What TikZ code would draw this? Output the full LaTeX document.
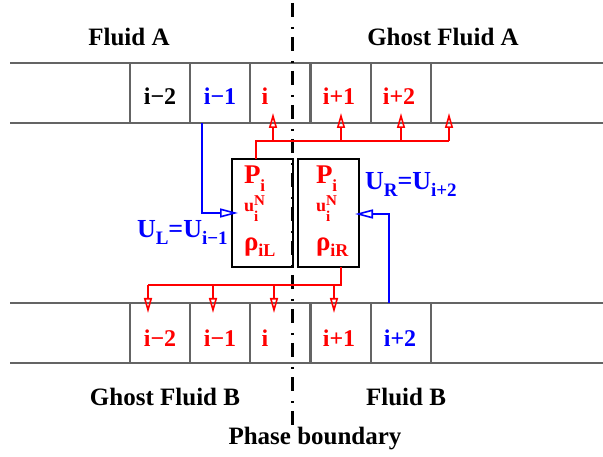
\documentclass[tikz,border=0pt]{standalone}
\usepackage{fontspec}
\setmainfont{Liberation Serif}
\usetikzlibrary{arrows.meta,calc}
\definecolor{fred}{RGB}{255,0,0}
\definecolor{fblue}{RGB}{0,0,255}
\definecolor{stripc}{RGB}{100,100,100}
\newcommand\fsz[1]{\fontsize{#1}{#1}\selectfont\bfseries}
\begin{document}
\begin{tikzpicture}[x=1pt,y=-1pt,
  every node/.style={inner sep=0pt, outer sep=0pt},
  title/.style={font=\fsz{25}, anchor=base},
  lab/.style={font=\fsz{24}, anchor=base},
  boxtxt/.style={anchor=base west, text=fred},
  stripline/.style={draw=stripc, line width=1.1pt},
  cell/.style={draw=stripc, line width=1.1pt, minimum width=60pt, minimum height=60pt},
  gbox/.style={draw=black, line width=1.5pt, minimum width=61pt, minimum height=108pt},
  redline/.style={draw=fred, line width=1.6pt},
  blueline/.style={draw=fblue, line width=1.6pt},
  vtip/.style={-{Triangle[open, length=15pt, width=8pt]}},
  htip/.style={-{Triangle[open, length=18pt, width=9pt]}},
  phase/.style={draw=black, line width=3pt, dash pattern=on 14pt off 10pt on 2pt off 8pt}
]
\useasboundingbox (0,0) rectangle (603,457);

% strips
\draw[stripline] (10,63) -- (603,63) (10,123) -- (603,123);
\draw[stripline] (10,303) -- (603,303) (10,363) -- (603,363);

% top cells
\node[cell] (tA1) at (160,93) {};
\node[cell] (tA2) at (220,93) {};
\node[cell] (tA3) at (280,93) {};
\node[cell] (tA4) at (341,93) {};
\node[cell] (tA5) at (401,93) {};
% bottom cells
\node[cell] (bB1) at (160,333) {};
\node[cell] (bB2) at (220,333) {};
\node[cell] (bB3) at (280,333) {};
\node[cell] (bB4) at (341,333) {};
\node[cell] (bB5) at (401,333) {};

% phase boundary line
\coordinate (pbtop) at (292.5,3);
\coordinate (pbbot) at (292.5,428);
\draw[phase] (pbtop) -- (pbbot);

% titles
\node[title] (fa) at (129,46) {Fluid A};
\node[title] (gfa) at (443,46) {Ghost Fluid A};
\node[title] (gfb) at (165,405) {Ghost Fluid B};
\node[title] (fb) at (406,405) {Fluid B};
\node[title] (pb) at (315,444) {Phase boundary};

% top labels
\node[lab] (lt1) at (160,105) {i−2};
\node[lab, text=fblue] (lt2) at (220,105) {i−1};
\node[lab, text=fred] (lt3) at (265,105) {i};
\node[lab, text=fred] (lt4) at (339,105) {i+1};
\node[lab, text=fred] (lt5) at (399,105) {i+2};
% bottom labels
\node[lab, text=fred] (lb1) at (160,347) {i−2};
\node[lab, text=fred] (lb2) at (220,347) {i−1};
\node[lab, text=fred] (lb3) at (265,347) {i};
\node[lab, text=fred] (lb4) at (339,347) {i+1};
\node[lab, text=fblue] (lb5) at (400,347) {i+2};

% boxes
\node[gbox] (boxL) at (262.5,213) {};
\node[gbox] (boxR) at (328.5,213) {};

% box texts
\node[boxtxt] (pL) at (244,184) {\fsz{27}P\raisebox{-8pt}{\fsz{17}i}};
\node[boxtxt] (uL) at (244,212) {\fsz{18}u\rlap{\raisebox{-10pt}{\fsz{15}i}}\raisebox{6pt}{\fsz{15}N}};
\node[boxtxt] (rL) at (244,251) {\fsz{27}ρ\raisebox{-6pt}{\fsz{18}iL}};
\node[boxtxt] (pR) at (316,184) {\fsz{27}P\raisebox{-8pt}{\fsz{17}i}};
\node[boxtxt] (uR) at (316,212) {\fsz{18}u\rlap{\raisebox{-10pt}{\fsz{15}i}}\raisebox{6pt}{\fsz{15}N}};
\node[boxtxt] (rR) at (316,251) {\fsz{27}ρ\raisebox{-6pt}{\fsz{18}iR}};

% U labels
\node[anchor=base west, text=fblue] (UL) at (137,238) {\fsz{26}U\raisebox{-7pt}{\fsz{19}L}=U\raisebox{-7pt}{\fsz{19}i−1}};
\node[anchor=base west, text=fblue] (UR) at (365,190) {\fsz{26}U\raisebox{-7pt}{\fsz{19}R}=U\raisebox{-7pt}{\fsz{19}i+2}};

% red top connector
\coordinate (rt) at ($(boxL.north west)+(24,0)$);
\coordinate (jt) at (0,141);
\coordinate (tip1) at (273,113);
\coordinate (tip2) at (341,113);
\coordinate (tip3) at (401,113);
\coordinate (tip4) at (449,113);
\draw[redline] (rt) |- (tip4 |- jt);
\draw[redline, vtip] (tip1 |- jt) -- (tip1);
\draw[redline, vtip] (tip2 |- jt) -- (tip2);
\draw[redline, vtip] (tip3 |- jt) -- (tip3);
\draw[redline, vtip] (tip4 |- jt) -- (tip4);

% red bottom connector
\coordinate (rb) at ($(boxR.south west)+(43,0)$);
\coordinate (jb) at (0,285);
\coordinate (bt1) at (148,313);
\coordinate (bt2) at (213,313);
\coordinate (bt3) at (274,313);
\coordinate (bt4) at (334,313);
\draw[redline] (rb) |- (bt1 |- jb);
\draw[redline, vtip] (bt1 |- jb) -- (bt1);
\draw[redline, vtip] (bt2 |- jb) -- (bt2);
\draw[redline, vtip] (bt3 |- jb) -- (bt3);
\draw[redline, vtip] (bt4 |- jb) -- (bt4);

% blue connectors
\coordinate (bl0) at ($(tA2.south)+(-18,0)$);
\coordinate (blt) at ($(boxL.west)+(6,0)$);
\draw[blueline, htip] (bl0) |- (blt);
\coordinate (br0) at ($(bB5.north)+(-12,0)$);
\coordinate (brt) at ($(boxR.east)+(-4,1)$);
\draw[blueline, htip] (br0) |- (brt);
\end{tikzpicture}
\end{document}
